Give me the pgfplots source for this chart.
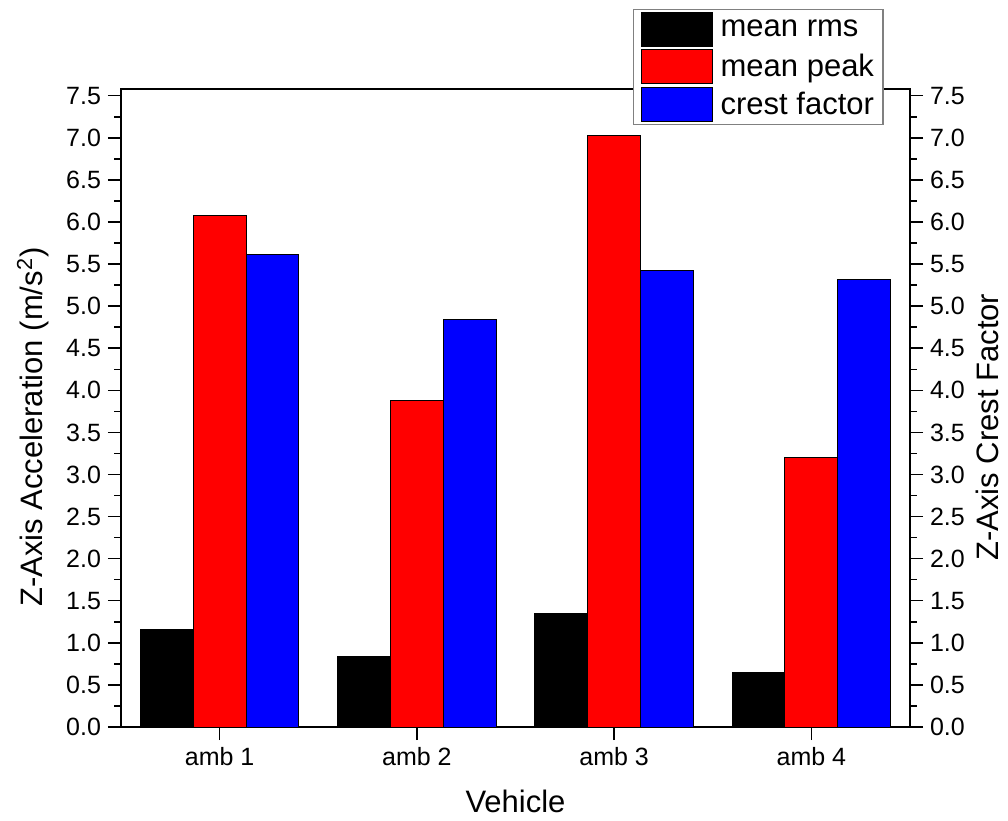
\documentclass[border=0pt]{standalone}
\usepackage{fontspec}
\setmainfont{Liberation Sans}
\usepackage{pgfplots}
\pgfplotsset{compat=1.18}
\begin{document}
\begin{tikzpicture}
\useasboundingbox (-60.5bp,-47bp) rectangle (443.5bp,363.5bp);
\pgfplotsset{
  common/.style={
    scale only axis, width=394.5bp, height=319bp,
    xmin=-0.5, xmax=3.5, ymin=0, ymax=7.58,
    ytick={0,0.5,...,7.5},
    minor y tick num=1,
    tick align=outside,
    major tick length=6.5bp, minor tick length=3.25bp,
    every tick/.style={line width=0.75bp, black},
    axis line style={line width=0.75bp},
    ticklabel style={font=\fontsize{12.5bp}{14bp}\selectfont},
    /pgf/number format/.cd, fixed, fixed zerofill, precision=1, assume math mode=true,
  }
}
\begin{axis}[common,
  at={(0,0)}, anchor=south west,
  ybar, bar width=0.268,
  xtick={0,1,2,3}, xticklabels={amb 1,amb 2,amb 3,amb 4},
  xtick pos=bottom, ytick pos=left,
  xlabel={Vehicle},
  ylabel={Z-Axis Acceleration (m/s\textsuperscript{2})},
  label style={font=\fontsize{15.5bp}{18bp}\selectfont},
  xlabel style={at={(axis description cs:0.5,-0.117)}, anchor=center},
  ylabel style={at={(axis description cs:-0.1115,0.47)}, anchor=center},
  legend image code/.code={\draw[#1,draw=black,line width=0.5bp] (0bp,-8.5bp) rectangle (35.5bp,8.5bp);},
  legend style={at={(axis description cs:0.649,1.1254)}, anchor=north west,
    draw=gray, line width=0.6bp, fill=white,
    font=\fontsize{15.5bp}{18bp}\selectfont,
    inner xsep=3.5bp, inner ysep=1.2bp, row sep=1.2bp,
    nodes={inner sep=1bp}, column sep=3bp},
  legend cell align=left,
]
\addplot[fill=black, draw=black, line width=0.5bp, bar shift=-0.268] coordinates {(0,1.16) (1,0.84) (2,1.35) (3,0.65)};
\addplot[fill=red, draw=black, line width=0.5bp, bar shift=0] coordinates {(0,6.08) (1,3.88) (2,7.03) (3,3.20)};
\addplot[fill=blue, draw=black, line width=0.5bp, bar shift=0.268] coordinates {(0,5.61) (1,4.84) (2,5.42) (3,5.32)};
\legend{mean rms, mean peak, crest factor}
\end{axis}
\begin{axis}[common,
  at={(0,0)}, anchor=south west,
  axis x line=none, axis y line*=right,
  ytick pos=right, yticklabel pos=right,
  ylabel={Z-Axis Crest Factor},
  ylabel style={font=\fontsize{15.5bp}{18bp}\selectfont, at={(axis description cs:1.098,0.47)}, anchor=center, rotate=0},
]
\addplot[draw=none, forget plot] coordinates {(0,0)};
\end{axis}
\end{tikzpicture}
\end{document}
